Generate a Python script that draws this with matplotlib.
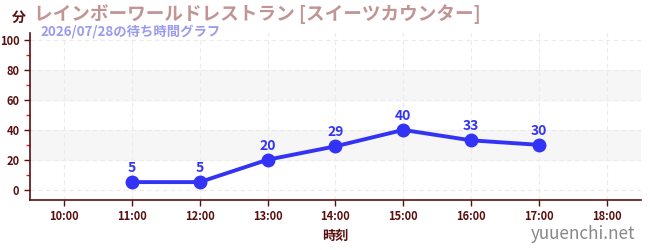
import matplotlib
matplotlib.use("Agg")
import matplotlib.pyplot as plt
from matplotlib.ticker import FixedLocator

plt.rcParams['font.family'] = ['Noto Sans CJK JP', 'DejaVu Sans']

hours = [11, 12, 13, 14, 15, 16, 17]
waits = [5, 5, 20, 29, 40, 33, 30]
tick_hours = [10, 11, 12, 13, 14, 15, 16, 17, 18]
tick_labels = ["10:00", "11:00", "12:00", "13:00", "14:00", "15:00", "16:00", "17:00", "18:00"]
title = "レインボーワールドレストラン [スイーツカウンター]"
subtitle = "2026/07/28の待ち時間グラフ"

axis_col = "#5a0f0f"
line_col = "#3333f5"

fig = plt.figure(figsize=(6.5, 2.5), dpi=100)
ax = fig.add_axes([0.046, 0.2, 0.94, 0.668])

ax.set_xlim(9.5, 18.5)
ax.set_ylim(-7, 105)

# gray bands
for lo in (20, 60):
    ax.axhspan(lo, lo + 20, color="#f6f6f6", zorder=0)

ax.yaxis.set_major_locator(FixedLocator([0, 20, 40, 60, 80, 100]))
ax.yaxis.set_minor_locator(FixedLocator([10, 30, 50, 70, 90]))
ax.xaxis.set_major_locator(FixedLocator(tick_hours))
ax.set_xticklabels(tick_labels)
ax.grid(True, which="major", color="#ebebeb", linestyle=(0, (4, 3)), linewidth=0.8)

for s in ("top", "right"):
    ax.spines[s].set_visible(False)
for s in ("left", "bottom"):
    ax.spines[s].set_color(axis_col)
    ax.spines[s].set_linewidth(1.2)

ax.tick_params(axis="both", which="major", colors=axis_col, length=4, width=1, labelsize=8)
ax.tick_params(axis="y", which="minor", colors="#dd2222", length=3, width=1)
for lab in ax.get_xticklabels() + ax.get_yticklabels():
    lab.set_fontweight("bold")

ax.plot(hours, waits, color=line_col, linewidth=2.8, marker="o", markersize=9, zorder=3)
for h, w in zip(hours, waits):
    ax.annotate(str(w), (h, w), xytext=(0, 5), textcoords="offset points",
                ha="center", va="bottom", color=line_col, fontsize=10, fontweight="bold")

ax.set_xlabel("時刻", color=axis_col, fontsize=9.5, fontweight="bold", labelpad=4)

fig.text(0.018, 0.93, "分", color=axis_col, fontsize=10, fontweight="bold", va="center")
fig.text(0.053, 0.945, title, color="#c29494", fontsize=13.4, fontweight="bold", va="center")
fig.text(0.062, 0.876, subtitle, color="#9a9aee", fontsize=9.6, fontweight="bold", va="center")
fig.text(0.977, 0.065, "yuuenchi.net", color="#888888", fontsize=12.3, ha="right", va="center")

fig.savefig("out.png", dpi=100)
